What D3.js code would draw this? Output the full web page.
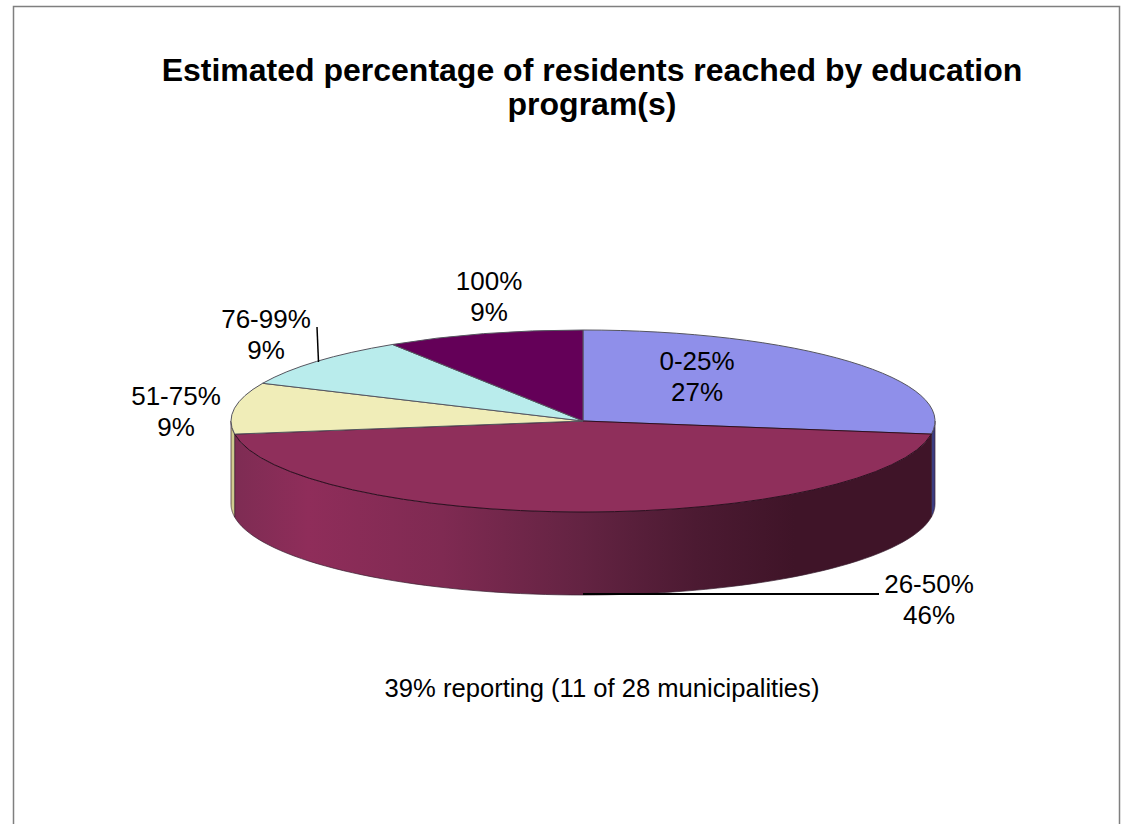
<!DOCTYPE html>
<html><head><meta charset="utf-8">
<script src="https://cdn.jsdelivr.net/npm/d3@7"></script>
<style>html,body{margin:0;padding:0;background:#fff}svg{display:block}text{font-family:"Liberation Sans",Arial,sans-serif;fill:#000}</style>
</head><body><svg id="c" width="1134" height="824"></svg>
<script>
const categories = ["0-25%","26-50%","51-75%","76-99%","100%"];
const shares = [27.3,45.4,9.1,9.1,9.1];
const shareLabels = ["27%","46%","9%","9%","9%"];
const topColors = ["#8f8fea","#8f2f5b","#f0edb8","#b9ecec","#640058"];
const sideColors = ["#3c3c80","url(#wall)","#cfcb8e","#8fc0c0","#3f0038"];
const titleLines = ["Estimated percentage of residents reached by education","program(s)"];
const note = "39% reporting (11 of 28 municipalities)";

const W=1134,H=824, cx=583, cy=421, rx=352, ry=91, depth=83;
const svg=d3.select("#c");
svg.append("rect").attr("x",13.5).attr("y",6.5).attr("width",1106).attr("height",830).attr("fill","#fff").attr("stroke","#7f7f7f").attr("stroke-width",1.5);

const stops=[[0,"#7d2c53"],[0.11,"#8f2d5a"],[0.3,"#7f2a52"],[0.5,"#632342"],[0.66,"#4c1a32"],[0.8,"#3f1428"],[1,"#3f1428"]];
const g=svg.append("defs").append("linearGradient").attr("id","wall").attr("gradientUnits","userSpaceOnUse")
  .attr("x1",cx-rx).attr("x2",cx+rx).attr("y1",0).attr("y2",0);
g.selectAll("stop").data(stops).join("stop").attr("offset",d=>d[0]).attr("stop-color",d=>d[1]);

const pie=d3.pie().sort(null).value(d=>d)(shares);
const px=a=>cx+rx*Math.sin(a), py=a=>cy-ry*Math.cos(a);

const wall=d3.area().x(px).y0(py).y1(a=>py(a)+depth);
const walls=svg.append("g");
pie.forEach((p,i)=>{
  const a0=Math.max(p.startAngle,Math.PI/2), a1=Math.min(p.endAngle,3*Math.PI/2);
  if(a1<=a0) return;
  const n=80, angs=d3.range(n+1).map(k=>a0+(a1-a0)*k/n);
  walls.append("path").attr("d",wall(angs)).attr("fill",sideColors[i]).attr("stroke","#3a2030").attr("stroke-width",0.7);
});

const arc=d3.arc().innerRadius(0).outerRadius(rx);
svg.append("g").attr("transform",`translate(${cx},${cy}) scale(1,${ry/rx})`)
  .selectAll("path").data(pie).join("path").attr("d",arc).attr("fill",(d,i)=>topColors[i])
  .attr("stroke",(d,i)=>i==1?"#2e0f20":"#55555f").attr("stroke-width",1).attr("vector-effect","non-scaling-stroke");

const lines=svg.append("g").attr("stroke","#000");
lines.append("line").attr("x1",px(Math.PI)).attr("y1",594).attr("x2",879).attr("y2",594).attr("stroke-width",1.8);
lines.append("line").attr("x1",317).attr("y1",327).attr("x2",318.5).attr("y2",362).attr("stroke-width",1.5);

const fs=26;
function label(i,x,y){
  const t=svg.append("text").attr("text-anchor","middle").attr("font-size",fs);
  t.append("tspan").attr("x",x).attr("y",y).text(categories[i]);
  t.append("tspan").attr("x",x).attr("y",y+31).text(shareLabels[i]);
}
label(0,697,370); label(1,929,593); label(2,176,405); label(3,266,328); label(4,489,290);
svg.append("g").selectAll("text").data(titleLines).join("text").attr("text-anchor","middle")
  .attr("x",592).attr("y",(d,i)=>81+i*34).attr("font-size",32).attr("font-weight","bold").text(d=>d);
svg.append("text").attr("text-anchor","middle").attr("x",602).attr("y",697).attr("font-size",25.6).text(note);
</script></body></html>
